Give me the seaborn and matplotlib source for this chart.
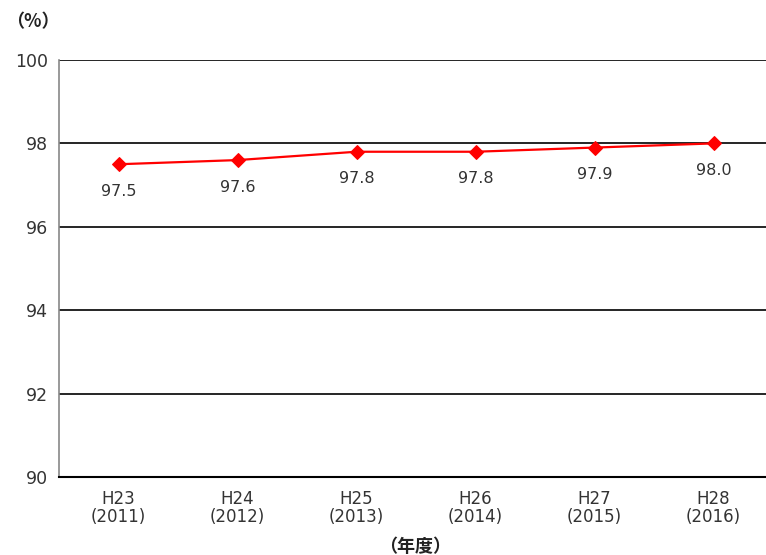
import pandas as pd
import matplotlib.pyplot as plt
import seaborn as sns

# Data
years = ['H23\n(2011)', 'H24\n(2012)', 'H25\n(2013)', 'H26\n(2014)', 'H27\n(2015)', 'H28\n(2016)']
rates = [97.5, 97.6, 97.8, 97.8, 97.9, 98.0]

df = pd.DataFrame({'pos': range(len(years)), 'rate': rates})

sns.set_style('white')
plt.rcParams['font.family'] = ['DejaVu Sans', 'Noto Sans CJK JP']

fig = plt.figure(figsize=(7.66, 5.55), dpi=100)
ax = fig.add_axes([59 / 766, 1 - 477 / 555, 714 / 766, 417 / 555])

# Horizontal grid lines
for y in [92, 94, 96, 98, 100]:
    ax.axhline(y, color='black', lw=1.2, zorder=1)

sns.lineplot(data=df, x='pos', y='rate', color='#ff0000', lw=1.6,
             marker='D', markersize=7, markeredgecolor='#ff0000', ax=ax, zorder=3)

# Data labels below points
for i, v in enumerate(rates):
    ax.annotate(f'{v:.1f}', (i, v), xytext=(0, -14), textcoords='offset points',
                ha='center', va='top', fontsize=11.5, color='#333333')

ax.set_xlim(-0.5, len(years) - 0.5)
ax.set_ylim(90, 100)
ax.set_yticks([90, 92, 94, 96, 98, 100])
ax.set_xticks(range(len(years)))
ax.set_xticklabels(years, fontsize=12, color='#333333', linespacing=1.05)
ax.set_xticks([i + 0.5 for i in range(len(years) - 1)], minor=True)
ax.tick_params(axis='x', which='major', length=0, pad=9)
ax.tick_params(axis='x', which='minor', length=5, width=1, color='black', direction='in')
ax.tick_params(axis='y', length=0, labelsize=12.5, labelcolor='#333333', pad=8)
ax.set_xlabel('')
ax.set_ylabel('')

for s in ['top', 'right']:
    ax.spines[s].set_visible(False)
ax.spines['left'].set_color('#888888')
ax.spines['left'].set_linewidth(1.2)
ax.spines['bottom'].set_color('black')
ax.spines['bottom'].set_linewidth(1.5)

fig.text(6 / 766, 1 - 22 / 555, '（%）', fontsize=13, fontweight='bold', color='#222222',
         va='center', ha='left', family=['Noto Sans CJK JP', 'DejaVu Sans'])
fig.text(415 / 766, 1 - 546 / 555, '（年度）', fontsize=13, fontweight='bold', color='#222222',
         va='center', ha='center', family=['Noto Sans CJK JP', 'DejaVu Sans'])

fig.savefig('out.png', dpi=100)
